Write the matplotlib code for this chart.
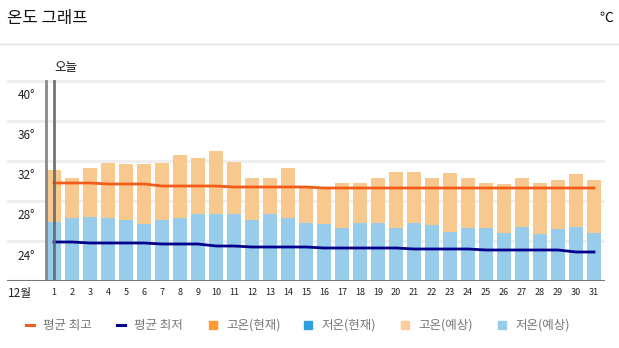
import numpy as np
import matplotlib.pyplot as plt
from matplotlib.lines import Line2D
from matplotlib.patches import Rectangle

plt.rcParams['font.family'] = ['Noto Sans CJK KR', 'DejaVu Sans']

# data (December)
days = np.arange(1, 32)
day_labels = [str(d) for d in days]
high = [31.1, 30.3, 31.3, 31.8, 31.7, 31.7, 31.8, 32.6, 32.3, 33.0, 31.9,
        30.3, 30.3, 31.3, 29.4, 29.3, 29.8, 29.8, 30.3, 30.9, 30.9, 30.3,
        30.8, 30.3, 29.8, 29.7, 30.3, 29.8, 30.1, 30.7, 30.1]
low = [25.9, 26.3, 26.4, 26.3, 26.1, 25.7, 26.1, 26.3, 26.7, 26.7, 26.7,
       26.1, 26.7, 26.3, 25.8, 25.7, 25.3, 25.8, 25.8, 25.3, 25.8, 25.6,
       24.9, 25.3, 25.3, 24.8, 25.4, 24.7, 25.2, 25.4, 24.8]
avg_high = [29.8, 29.8, 29.8, 29.7, 29.7, 29.7, 29.5, 29.5, 29.5, 29.5, 29.4,
            29.4, 29.4, 29.4, 29.4, 29.3, 29.3, 29.3, 29.3, 29.3, 29.3, 29.3,
            29.3, 29.3, 29.3, 29.3, 29.3, 29.3, 29.3, 29.3, 29.3]
avg_low = [23.9, 23.9, 23.8, 23.8, 23.8, 23.8, 23.7, 23.7, 23.7, 23.5, 23.5,
           23.4, 23.4, 23.4, 23.4, 23.3, 23.3, 23.3, 23.3, 23.3, 23.2, 23.2,
           23.2, 23.2, 23.1, 23.1, 23.1, 23.1, 23.1, 22.9, 22.9]
y_ticks = [24, 28, 32, 36, 40]
legend_labels = ['평균 최고', '평균 최저', '고온(현재)', '저온(현재)', '고온(예상)', '저온(예상)']
legend_colors = ['#f25c19', '#00008b', '#ff9933', '#2ea0db', '#fecb9a', '#97cdea']
legend_kinds = ['line', 'line', 'box', 'box', 'box', 'box']
legend_x = [26, 117, 209, 304, 401, 498]  # pixel position of each legend key

W, H = 619, 348
fig = plt.figure(figsize=(W / 100, H / 100), dpi=100)

# plot area in pixels: x 7..605, y 78..281
ax = fig.add_axes([7 / W, (H - 281) / H, 598 / W, 203 / H])
ax.set_xlim(1 - 47 / 18, 31 + 11 / 18)
ax.set_ylim(20, 40.3)

for v in y_ticks:
    ax.axhline(v, color='#eeeeee', lw=2, zorder=0)
    ax.text(28 / 598, v - 1.5, f'{v}°', transform=ax.get_yaxis_transform(),
            ha='right', va='center', fontsize=8.5, color='#222222')

ax.bar(days, [h - 20 for h in high], bottom=20, width=0.78, color='#f8c98e', zorder=1)
ax.bar(days, [l - 20 for l in low], bottom=20, width=0.78, color='#97cdea', zorder=2)

ax.plot(days, avg_high, color='#f25c19', lw=2, zorder=3)
ax.plot(days, avg_low, color='#00008b', lw=2, zorder=3)

# left edge and today marker
ax.plot([1 - 8 / 18] * 2, [20, 40], color='#888888', lw=2, zorder=4)
ax.plot([1, 1], [20, 40], color='#666666', lw=2, alpha=0.9, zorder=4)
ax.text(1, 41.3, '오늘', ha='left', va='center', fontsize=9, color='#111111')

ax.axhline(20, color='#777777', lw=2.2, zorder=5)

for s in ax.spines.values():
    s.set_visible(False)
ax.set_yticks([])
ax.set_xticks(days)
ax.set_xticklabels(day_labels, fontsize=6.5, color='#222222')
ax.tick_params(axis='x', length=0, pad=5)
ax.text(1 - 34 / 18, 20 - 1.2, '12월', ha='center', va='center', fontsize=8.5, color='#222222')

# header
fig.text(7 / W, 1 - 18 / H, '온도 그래프', ha='left', va='center', fontsize=12, color='#111111')
fig.text(613 / W, 1 - 18 / H, '℃', ha='right', va='center', fontsize=10, color='#111111')
fig.add_artist(Line2D([0, 1], [1 - 44 / H] * 2, color='#dddddd', lw=1))

# legend, laid out by hand
ly = 1 - 325 / H
for x, lab, col, kind in zip(legend_x, legend_labels, legend_colors, legend_kinds):
    if kind == 'line':
        fig.add_artist(Line2D([x / W, (x + 8) / W], [ly, ly], color=col, lw=2.2))
    else:
        fig.add_artist(Rectangle((x / W, ly - 3.5 / H), 7.5 / W, 7.5 / H, color=col))
    fig.text((x + 17) / W, ly, lab, ha='left', va='center', fontsize=9, color='#777777')

fig.savefig('out.png', dpi=100)
